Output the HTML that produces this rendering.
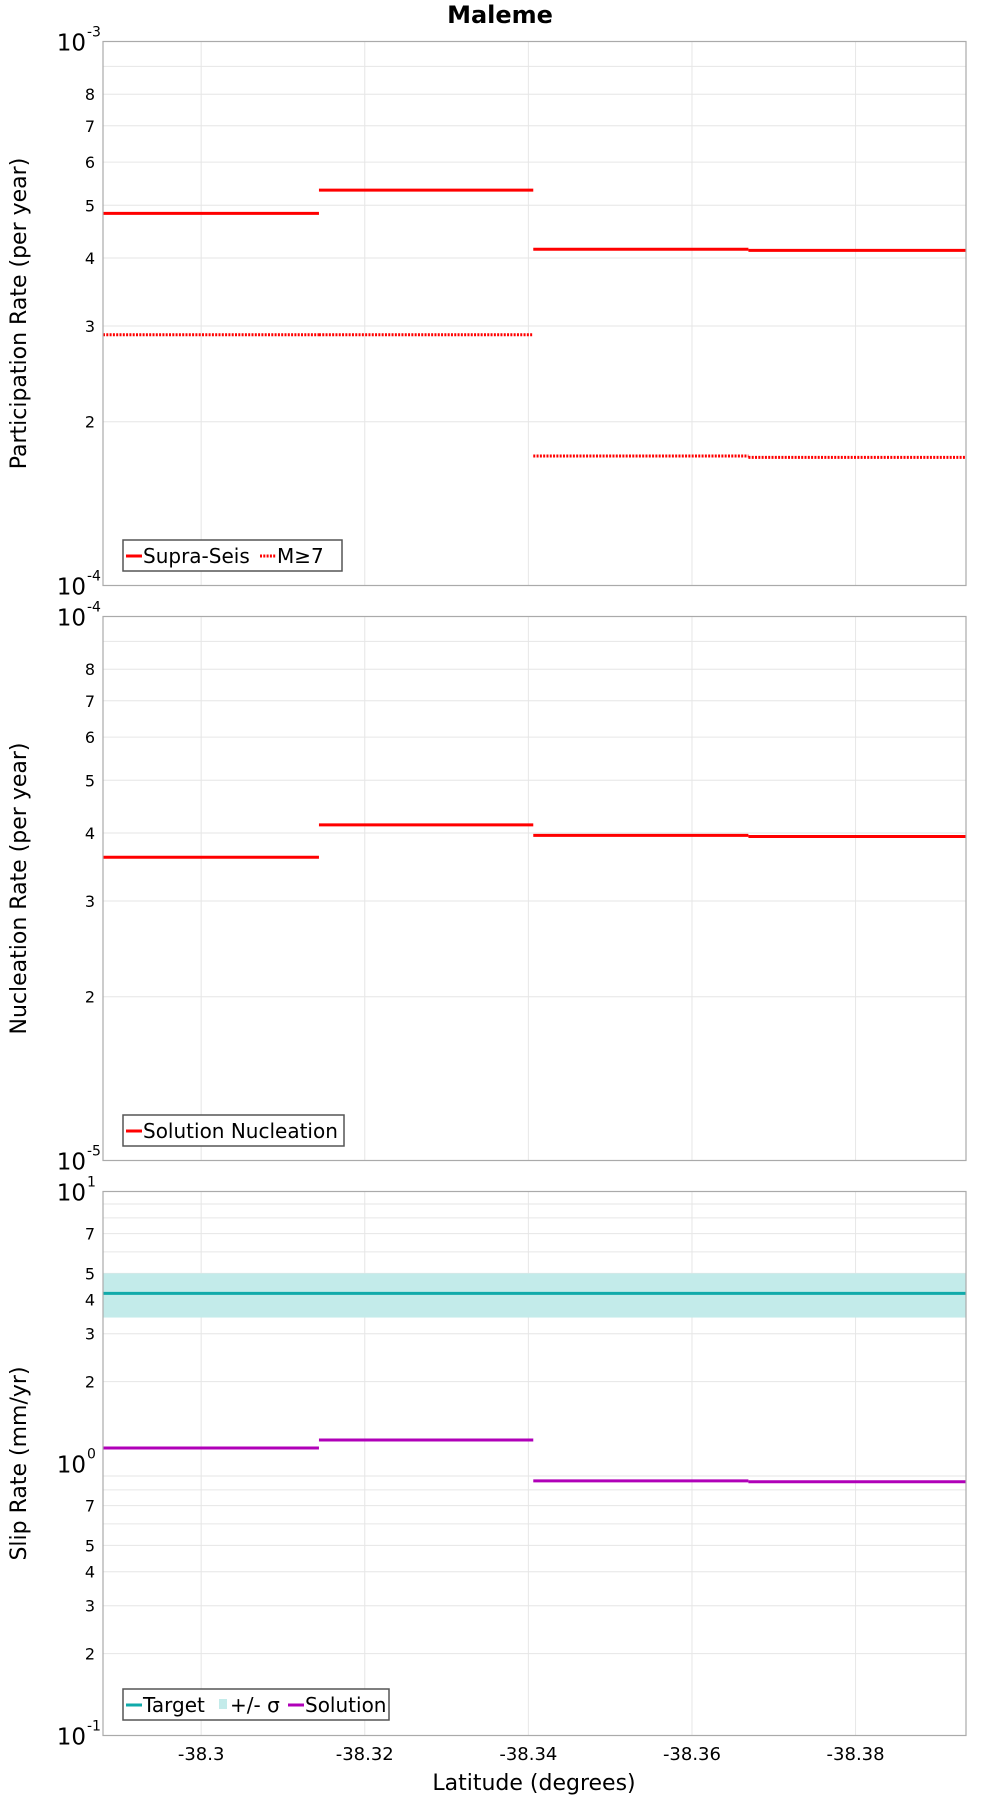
<!DOCTYPE html>
<html><head><meta charset="utf-8"><style>
html,body{margin:0;padding:0;background:#fff}
svg{display:block}
text{font-family:"DejaVu Sans","Liberation Sans",sans-serif;fill:#000}
</style></head><body>
<svg id="chart" width="1000" height="1800" viewBox="0 0 1000 1800" xmlns="http://www.w3.org/2000/svg">
<text x="500" y="23" text-anchor="middle" font-size="24" font-weight="bold">Maleme</text>
<text x="534" y="1790" text-anchor="middle" font-size="22">Latitude (degrees)</text>
</svg>
<script>
// x domain (latitude)
const xMin = -38.2880, xMax = -38.3935;
const xTicks = [-38.30, -38.32, -38.34, -38.36, -38.38];
const xTickLabels = ["-38.3", "-38.32", "-38.34", "-38.36", "-38.38"];
const segStart = [-38.2880, -38.3144, -38.3406, -38.3669];
const segEnd   = [-38.3144, -38.3406, -38.3669, -38.3935];
// panel 1
const supraSeis = [4.83e-4, 5.33e-4, 4.15e-4, 4.13e-4];
const m7 = [2.89e-4, 2.89e-4, 1.73e-4, 1.72e-4];
// panel 2
const nucleation = [3.61e-5, 4.14e-5, 3.96e-5, 3.94e-5];
// panel 3
const targetSlip = [4.22];
const sigmaLow = [3.44];
const sigmaHigh = [5.0];
const solutionSlip = [1.14, 1.22, 0.863, 0.857];

const NS = "http://www.w3.org/2000/svg";
const svg = document.getElementById('chart');
const L = 103, R = 966, PH = 544;
function xs(v){ return L + (v - xMin) / (xMax - xMin) * (R - L); }
function mk(tag, attrs, parent){ const e = document.createElementNS(NS, tag); for (const k in attrs) e.setAttribute(k, attrs[k]); (parent||svg).appendChild(e); return e; }

function panel(top, dMin, dMax, labelDigits, title, key){
  const ys = v => top + PH - (Math.log10(v) - Math.log10(dMin)) / (Math.log10(dMax) - Math.log10(dMin)) * PH;
  const g = mk('g', {});
  
  
  for (let d = dMin; d < dMax * 0.999; d *= 10){
    for (let m = 2; m <= 9; m++){
      const y = ys(d * m);
      const gl = mk('line', {x1:L, x2:R, y1:y, y2:y, stroke:'#e6e6e6', 'stroke-width':1}, g);
      
      
      if (labelDigits.includes(m)){
        const t = mk('text', {x:95, y:y+6, 'text-anchor':'end', 'font-size':16, fill:'#222'}, g);
        t.textContent = String(m);
        
        
      }
    }
  }
  for (let d = dMin; d <= dMax * 1.001; d *= 10){
    const y = ys(d);
    const ex = Math.round(Math.log10(d));
    const t = mk('text', {x:86, y:y+9, 'text-anchor':'end', 'font-size':23}, g);
    t.textContent = '10';
    
    
    const s = mk('text', {x:87, y:y-5, 'text-anchor':'start', 'font-size':14}, g);
    s.textContent = String(ex);
    
    
  }
  xTicks.forEach(v => {
    const gl = mk('line', {x1:xs(v), x2:xs(v), y1:top, y2:top+PH, stroke:'#e6e6e6', 'stroke-width':1}, g);
    
    
  });
  const yt = mk('text', {transform:`translate(26,${top+PH/2}) rotate(-90)`, 'text-anchor':'middle', 'font-size':22}, g);
  yt.textContent = title;
  
  
  return {g, ys};
}
function frame(top, g){
  const f = mk('rect', {x:L, y:top, width:R-L, height:PH, fill:'none', stroke:'#aaa', 'stroke-width':1.2}, g);
  
  
}
function segs(arr, ys, g, color, dash, name){
  arr.forEach((v, i) => {
    const l = mk('line', {x1:xs(segStart[i]), x2:xs(segEnd[i]), y1:ys(v), y2:ys(v), stroke:color, 'stroke-width':3}, g);
    if (dash) l.setAttribute('stroke-dasharray', '2,1.3');
    
    
  });
}
function legend(x, y, w, items, g, name){
  const lg = mk('g', {}, g);
  
  
  mk('rect', {x:x, y:y, width:w, height:31, fill:'#fff', stroke:'#555', 'stroke-width':1.5}, lg);
  let cx = x + 3;
  items.forEach(it => {
    if (it.box){
      mk('rect', {x:cx+1, y:y+10, width:8, height:10, fill:it.color}, lg);
      cx += 12;
    } else {
      const l = mk('line', {x1:cx, x2:cx+16, y1:y+16, y2:y+16, stroke:it.color, 'stroke-width':3}, lg);
      if (it.dash) l.setAttribute('stroke-dasharray', '2,1.3');
      cx += 17;
    }
    const t = mk('text', {x:cx, y:y+23, 'font-size':20}, lg);
    t.textContent = it.label;
    
    
    cx += it.w;
  });
}

// Panel 1
const p1 = panel(41.5, 1e-4, 1e-3, [2,3,4,5,6,7,8], 'Participation Rate (per year)', 'participation');
segs(m7, p1.ys, p1.g, '#ff0000', true, 'm7');
segs(supraSeis, p1.ys, p1.g, '#ff0000', false, 'supra-seis');
frame(41.5, p1.g);
legend(123, 540, 219, [{label:'Supra-Seis', color:'#ff0000', w:117}, {label:'M≥7', color:'#ff0000', dash:true, w:50}], p1.g, 'participation-legend');

// Panel 2
const p2 = panel(616.5, 1e-5, 1e-4, [2,3,4,5,6,7,8], 'Nucleation Rate (per year)', 'nucleation');
segs(nucleation, p2.ys, p2.g, '#ff0000', false, 'nucleation');
frame(616.5, p2.g);
legend(123, 1115, 221, [{label:'Solution Nucleation', color:'#ff0000', w:200}], p2.g, 'nucleation-legend');

// Panel 3
const p3 = panel(1191.5, 0.1, 10, [2,3,4,5,7], 'Slip Rate (mm/yr)', 'slip');
sigmaLow.forEach((v, i) => {
  const b = mk('rect', {x:L, y:p3.ys(sigmaHigh[i]), width:R-L, height:p3.ys(v)-p3.ys(sigmaHigh[i]), fill:'#c3ebea'}, p3.g);
  
  
});
targetSlip.forEach(v => {
  const l = mk('line', {x1:L, x2:R, y1:p3.ys(v), y2:p3.ys(v), stroke:'#10aaaa', 'stroke-width':3}, p3.g);
  
  
});
segs(solutionSlip, p3.ys, p3.g, '#b000b8', false, 'solution');
frame(1191.5, p3.g);
legend(123, 1689, 266, [{label:'Target', color:'#10aaaa', w:75}, {label:'+/- σ', color:'#c3ebea', box:true, w:58}, {label:'Solution', color:'#b000b8', w:90}], p3.g, 'slip-legend');

// x tick labels
xTicks.forEach((v, i) => {
  const t = mk('text', {x:xs(v), y:1760, 'text-anchor':'middle', 'font-size':18});
  t.textContent = xTickLabels[i];
  
  
});
</script>
</body></html>
